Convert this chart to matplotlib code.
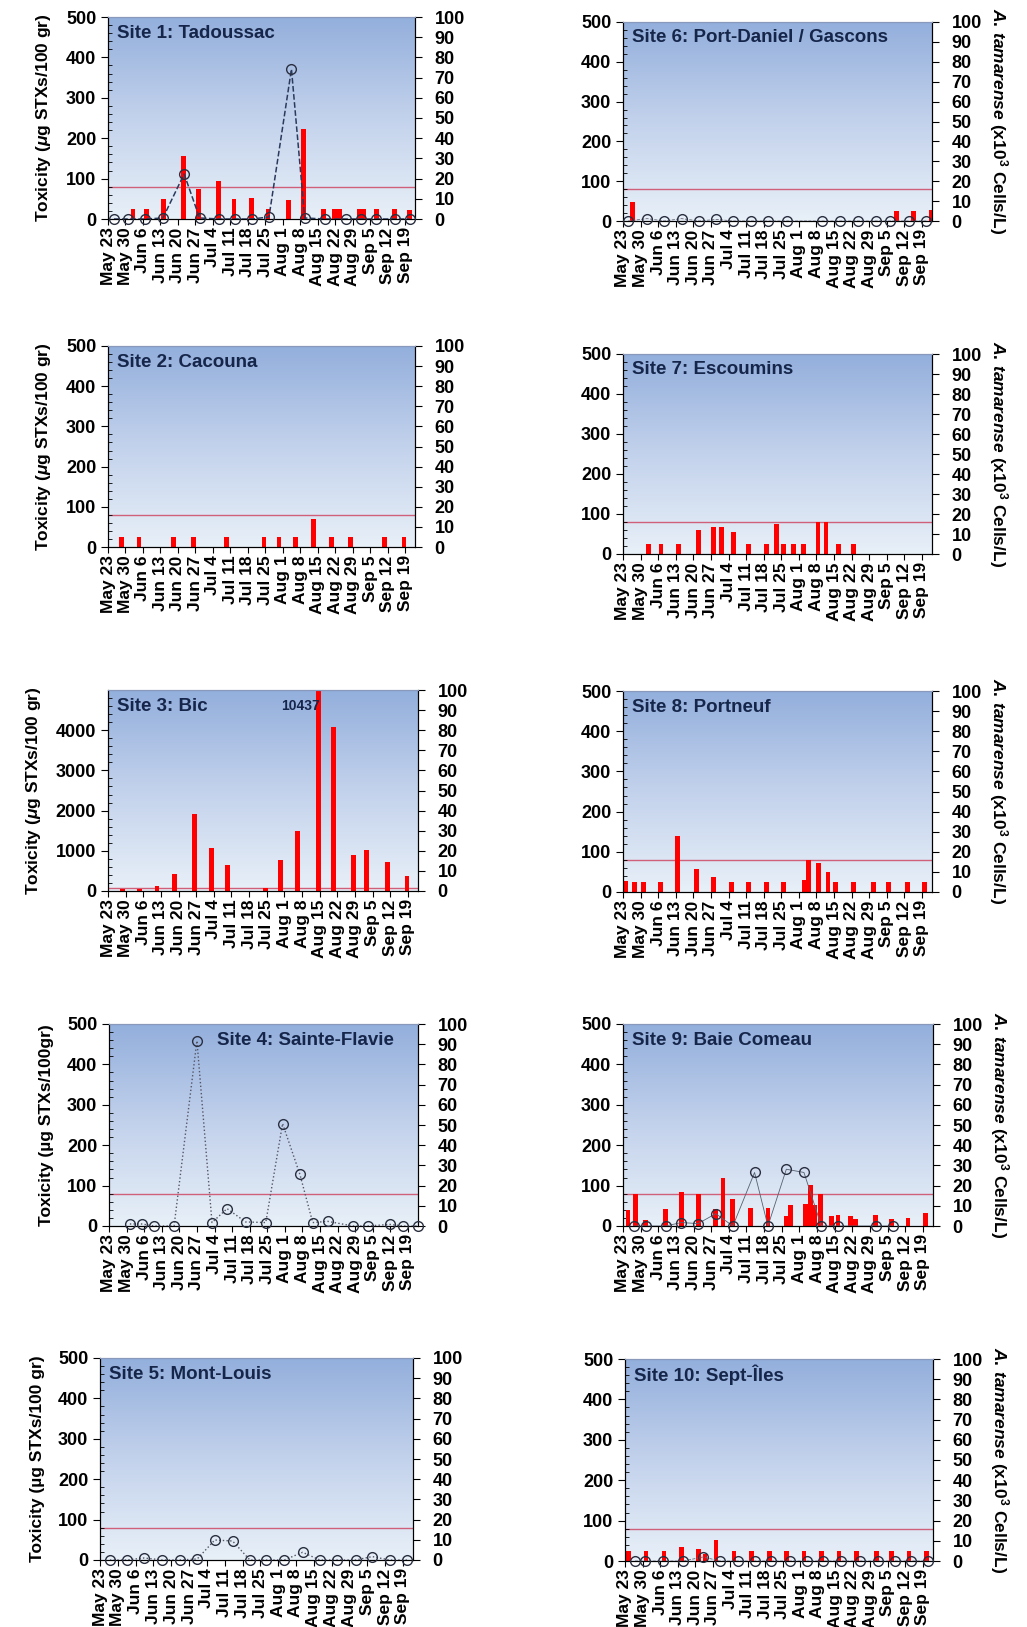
import matplotlib.pyplot as plt
import numpy as np
from matplotlib.colors import LinearSegmentedColormap
from matplotlib.ticker import MultipleLocator

plt.rcParams['font.family'] = ['Liberation Sans', 'DejaVu Sans']
plt.rcParams['font.weight'] = 'bold'
plt.rcParams['mathtext.fontset'] = 'custom'
plt.rcParams['mathtext.rm'] = 'Liberation Sans:bold'
plt.rcParams['mathtext.it'] = 'Liberation Sans:italic:bold'
plt.rcParams['mathtext.bf'] = 'Liberation Sans:bold'

# weekly sampling dates, day 0 = May 23
week_labels = ['May 23', 'May 30', 'Jun 6', 'Jun 13', 'Jun 20', 'Jun 27', 'Jul 4', 'Jul 11', 'Jul 18',
               'Jul 25', 'Aug 1', 'Aug 8', 'Aug 15', 'Aug 22', 'Aug 29', 'Sep 5', 'Sep 12', 'Sep 19']
week_days = np.arange(0, 126, 7)

# Site 1: Tadoussac
s1_bar_day = [10.0, 15.4, 22.3, 30.3, 36.3, 44.4, 50.5, 57.4, 64.1, 72.4, 78.4, 86.4, 90.8, 92.8, 100.6, 102.5, 107.5, 114.9, 120.9]
s1_bar_tox = [25, 24, 49, 155, 74, 94, 50, 51, 25, 47, 223, 24, 24, 24, 24, 24, 24, 24, 22]
s1_cell_day = [2.4, 8.0, 15.0, 22.0, 30.5, 36.7, 44.5, 50.8, 57.7, 64.5, 73.5, 78.8, 86.8, 95.5, 101.5, 107.5, 114.9, 120.9]
s1_cell_val = [0, 0, 0, 0.5, 22.3, 0.5, 0, 0, 0, 1, 74.2, 0.5, 0, 0, 0, 0, 0, 0]

# Site 2: Cacouna
s2_bar_day = [5.3, 12.4, 26.3, 34.3, 47.4, 62.5, 68.5, 75.2, 82.4, 89.5, 97.3, 110.9, 118.6]
s2_bar_tox = [25, 25, 25, 25, 25, 25, 25, 25, 69, 25, 25, 25, 25]

# Site 3: Bic
s3_bar_day = [5.7, 12.4, 19.4, 26.3, 34.3, 41.1, 47.4, 62.5, 68.5, 75.2, 83.5, 89.5, 97.3, 102.5, 110.9, 118.6]
s3_bar_tox = [58, 60, 125, 415, 1927, 1080, 648, 75, 780, 1487, 10437, 4086, 905, 1013, 723, 374]

# Site 4: Sainte-Flavie
s4_cell_day = [8.3, 13.0, 17.9, 25.9, 35.0, 41.0, 47.0, 54.4, 62.4, 69.1, 76.0, 81.1, 87.1, 97.1, 103.1, 111.8, 117.2, 123.0]
s4_cell_val = [1, 1, 0, 0, 91.7, 1.7, 8.6, 2, 1.7, 50.7, 25.5, 1.7, 2.3, 0, 0, 0.8, 0, 0]

# Site 5: Mont-Louis
s5_cell_day = [3.9, 10.5, 17.3, 24.5, 31.4, 38.2, 45.1, 52.1, 58.9, 65.4, 72.4, 79.6, 86.4, 93.2, 100.5, 107.0, 113.8, 120.6]
s5_cell_val = [0, 0, 1, 0, 0, 0.5, 9.9, 9.4, 0, 0, 0, 3.8, 0, 0, 0, 1.7, 0, 0]

# Site 6: Port-Daniel / Gascons
s6_bar_day = [3.7, 109.0, 115.7, 122.6]
s6_bar_tox = [48, 25, 25, 27]
s6_cell_day = [2.0, 9.6, 16.4, 23.3, 30.3, 37.2, 43.9, 50.8, 57.8, 65.2, 79.1, 86.2, 93.7, 100.8, 106.4, 113.7, 120.7]
s6_cell_val = [0, 1.2, 0, 1.2, 0, 0.8, 0, 0, 0, 0, 0, 0, 0, 0, 0, 0, 0]

# Site 7: Escoumins
s7_bar_day = [10.2, 15.1, 22.2, 30.1, 36.1, 39.1, 44.1, 50.0, 57.1, 61.0, 64.0, 67.9, 71.9, 77.6, 80.8, 85.8, 91.8]
s7_bar_tox = [25, 25, 25, 60, 67, 67, 56, 25, 25, 75, 25, 25, 25, 81, 80, 25, 25]

# Site 8: Portneuf
s8_bar_day = [0.9, 4.5, 8.2, 14.9, 21.8, 29.2, 36.1, 43.1, 50.0, 57.1, 64.0, 72.2, 73.9, 77.9, 81.6, 84.7, 91.8, 99.8, 105.8, 113.1, 120.1]
s8_bar_tox = [27, 24, 24, 24, 139, 58, 37, 24, 24, 24, 24, 29, 80, 72, 50, 24, 24, 24, 24, 24, 24]

# Site 9: Baie Comeau
s9_bar_day = [2.0, 5.0, 9.0, 16.9, 23.1, 29.8, 36.8, 39.7, 43.6, 50.7, 57.5, 64.8, 66.5, 72.5, 74.3, 76.0, 78.3, 82.7, 85.3, 90.2, 92.3, 100.3, 106.5, 113.1, 120.1]
s9_bar_tox = [39, 78, 16, 41, 83, 78, 41, 119, 68, 45, 45, 25, 51, 55, 101, 53, 80, 25, 26, 25, 18, 26, 18, 20, 31]
s9_cell_day = [4.2, 9.0, 16.9, 23.1, 29.8, 36.8, 43.6, 52.2, 57.5, 64.8, 71.8, 78.7, 85.3, 100.3, 107.1]
s9_cell_val = [0, 0, 0, 1.7, 1.2, 6.1, 0, 26.5, 0, 28.1, 26.5, 0, 0, 0, 0]

# Site 10: Sept-Iles
s10_bar_day = [1.3, 8.4, 15.6, 22.6, 29.3, 31.9, 36.3, 43.5, 50.5, 57.6, 64.5, 71.5, 78.5, 85.5, 92.4, 100.4, 106.4, 113.4, 120.3]
s10_bar_tox = [25, 25, 25, 35, 29, 18, 51, 25, 25, 25, 25, 25, 25, 25, 25, 25, 25, 25, 25]
s10_cell_day = [4.0, 8.0, 15.3, 23.3, 31.2, 37.9, 45.2, 51.9, 58.5, 65.8, 72.5, 79.1, 86.4, 93.7, 101.1, 107.7, 114.4, 121.0]
s10_cell_val = [0, 0, 0, 0, 2, 0, 0, 0, 0, 0, 0, 0, 0, 0, 0, 0, 0, 0]

W, H = 1027, 1627
fig = plt.figure(figsize=(W / 100, H / 100), dpi=100)

grad_cmap = LinearSegmentedColormap.from_list('bg', ['#e8f0f8', '#c3d2ec', '#93afdc'])
grad = np.linspace(0, 1, 256).reshape(-1, 1)

tox_lab = r'Toxicity ($\mathit{\mu}$g STXs/100 gr)'
cell_lab = r'$\mathit{A.\,tamarense}$ (x10$^3$ Cells/L)'


def panel(px, title, bar_day=None, bar_tox=None, cell_day=None, cell_val=None,
          ls='--', lc='#2b3a5c', lw=1.0, ymax=500, left_label=None, right_label=False,
          title_x=0.03):
    l, r, t, b = px
    ax = fig.add_axes([l / W, 1 - b / H, (r - l) / W, (b - t) / H])
    ax.imshow(grad, extent=[0, 1, 0, 1], transform=ax.transAxes, cmap=grad_cmap,
              aspect='auto', zorder=0, origin='lower')
    ax.set_xlim(0, 123)
    ax.set_ylim(0, ymax)
    ax.axhline(80, color='#d0607a', lw=1.0, zorder=1)
    if bar_day is not None:
        ax.bar(bar_day, bar_tox, width=1.9, color='#ff0000', zorder=2)
    ax.set_xticks(week_days)
    ax.set_xticklabels(week_labels, rotation=90, fontsize=12.5, fontweight='bold')
    if ymax == 500:
        ax.yaxis.set_major_locator(MultipleLocator(100))
        ax.yaxis.set_minor_locator(MultipleLocator(20))
    else:
        ax.set_yticks([0, 1000, 2000, 3000, 4000])
        ax.yaxis.set_minor_locator(MultipleLocator(200))
    ax.tick_params(axis='y', which='major', direction='out', length=5, labelsize=13)
    ax.tick_params(axis='y', which='minor', direction='in', length=3)
    ax.tick_params(axis='x', direction='out', length=4, pad=2)
    ax.spines['top'].set_color('#8899bb')
    if left_label:
        ax.set_ylabel(left_label, fontsize=12.5, fontweight='bold', labelpad=9)
    ax.text(title_x, 0.92, title, transform=ax.transAxes, fontsize=13.5, fontweight='bold',
            color='#16264a', va='center', ha='left', zorder=5)

    ax2 = ax.twinx()
    ax2.set_ylim(0, 100)
    ax2.yaxis.set_major_locator(MultipleLocator(10))
    ax2.tick_params(axis='y', direction='out', length=5, pad=9, labelsize=13)
    ax2.spines['top'].set_color('#8899bb')
    if cell_day is not None:
        ax2.plot(cell_day, cell_val, ls=ls, color=lc, lw=lw, zorder=3)
        ax2.plot(cell_day, cell_val, 'o', mfc='none', mec='#2a2f40', ms=7, mew=1.0,
                 clip_on=False, zorder=4)
    if right_label:
        ax2.set_ylabel(cell_lab, rotation=270, fontsize=12.5, fontweight='bold', labelpad=20)
    return ax, ax2


panel((108, 415, 17, 219), 'Site 1: Tadoussac', s1_bar_day, s1_bar_tox, s1_cell_day, s1_cell_val,
      ls='--', lc='#2b3a5c', lw=1.1, left_label=tox_lab)
panel((108, 415, 346, 547), 'Site 2: Cacouna', s2_bar_day, s2_bar_tox, left_label=tox_lab)
a3, _ = panel((108, 418, 690, 891), 'Site 3: Bic', s3_bar_day, s3_bar_tox, ymax=5000,
              left_label=tox_lab)
a3.text(0.56, 0.92, '10437', transform=a3.transAxes, fontsize=10, fontweight='bold',
        color='#16264a', va='center', ha='left')
panel((109, 418, 1024, 1226), 'Site 4: Sainte-Flavie', cell_day=s4_cell_day, cell_val=s4_cell_val,
      ls=':', lc='#555566', lw=1.0, left_label='Toxicity (µg STXs/100gr)', title_x=0.35)
panel((100, 413, 1358, 1560), 'Site 5: Mont-Louis', cell_day=s5_cell_day, cell_val=s5_cell_val,
      ls=':', lc='#555566', lw=1.0, left_label='Toxicity (µg STXs/100 gr)')

panel((623, 932, 22, 221), 'Site 6: Port-Daniel / Gascons', s6_bar_day, s6_bar_tox,
      s6_cell_day, s6_cell_val, ls='--', lc='#666677', lw=0.6, right_label=True)
panel((623, 932, 354, 554), 'Site 7: Escoumins', s7_bar_day, s7_bar_tox, right_label=True)
panel((623, 932, 691, 892), 'Site 8: Portneuf', s8_bar_day, s8_bar_tox, right_label=True)
panel((623, 933, 1024, 1226), 'Site 9: Baie Comeau', s9_bar_day, s9_bar_tox,
      s9_cell_day, s9_cell_val, ls='-', lc='#556070', lw=0.6, right_label=True)
panel((625, 933, 1359, 1561), 'Site 10: Sept-Îles', s10_bar_day, s10_bar_tox,
      s10_cell_day, s10_cell_val, ls='--', lc='#666677', lw=0.6, right_label=True)

fig.savefig('out.png', dpi=100, facecolor='white')
